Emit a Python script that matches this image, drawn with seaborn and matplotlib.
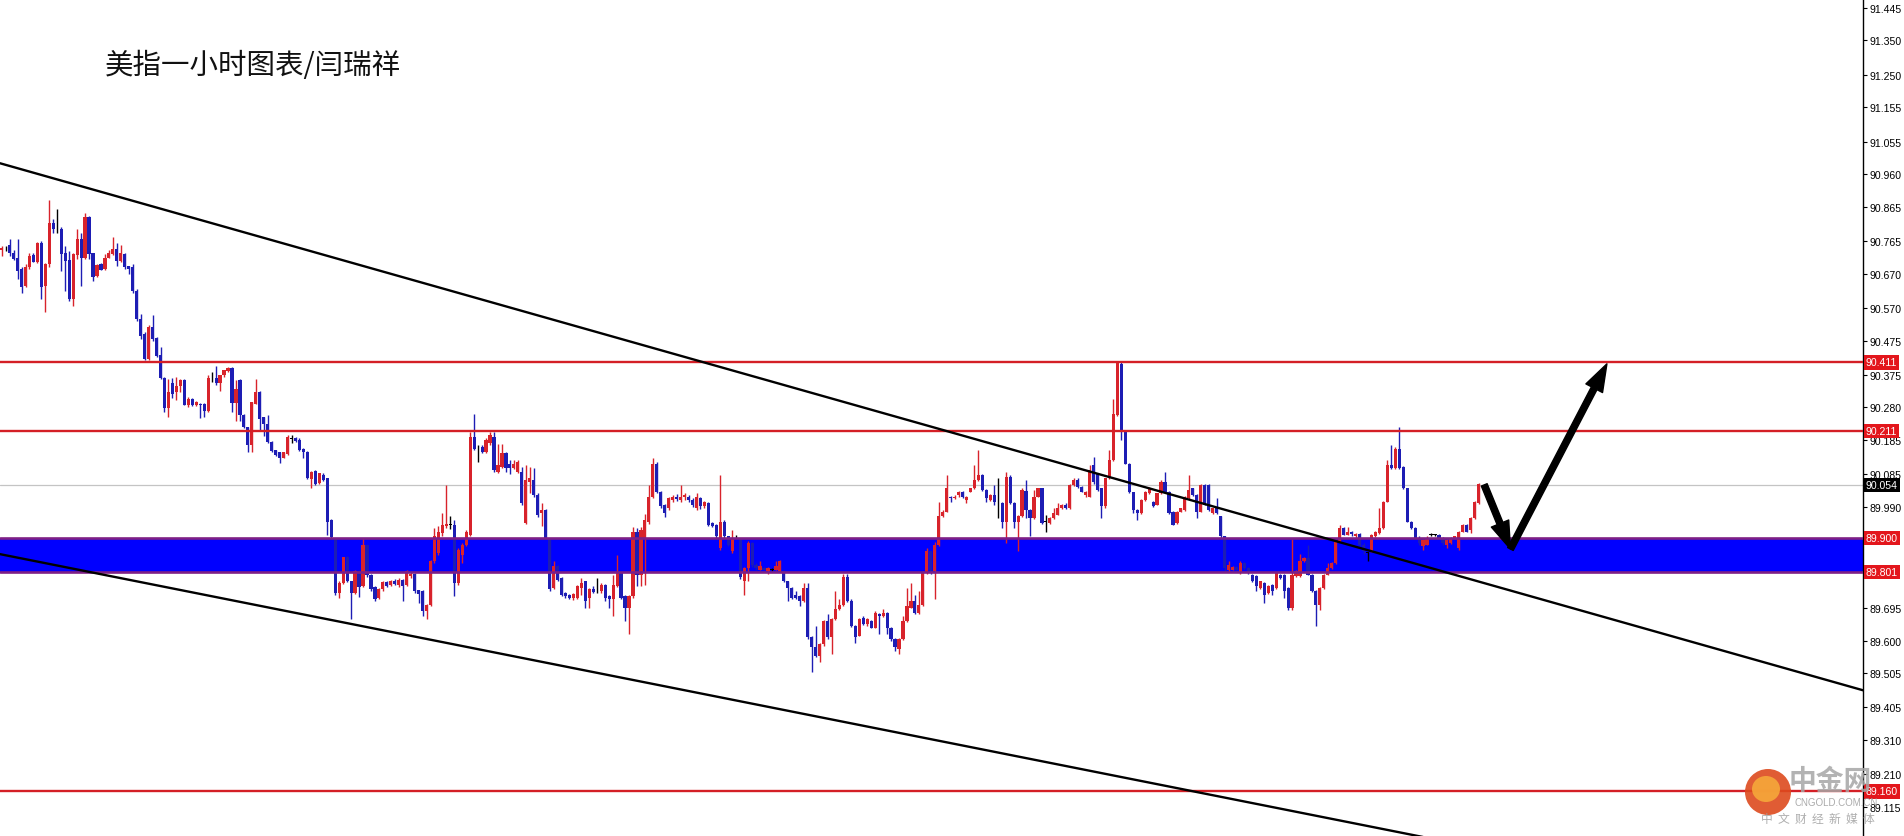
import matplotlib
matplotlib.use("Agg")
import matplotlib.pyplot as plt
from matplotlib.patches import Ellipse
import seaborn as sns
import numpy as np

# hourly candles (price)
opens = [
    90.740, 90.742, 90.755, 90.731, 90.715, 90.683, 90.633, 90.688, 90.724, 90.704,
    90.760, 90.633, 90.697, 90.818, 90.799, 90.801, 90.729, 90.709, 90.596, 90.724,
    90.770, 90.717, 90.835, 90.729, 90.662, 90.697, 90.683, 90.717, 90.726, 90.743,
    90.707, 90.726, 90.691, 90.688, 90.620, 90.538, 90.494, 90.422, 90.514, 90.482,
    90.433, 90.366, 90.277, 90.352, 90.325, 90.342, 90.359, 90.288, 90.304, 90.286,
    90.291, 90.291, 90.269, 90.366, 90.366, 90.352, 90.373, 90.386, 90.396, 90.294,
    90.359, 90.259, 90.223, 90.170, 90.291, 90.325, 90.253, 90.233, 90.180, 90.155,
    90.149, 90.133, 90.143, 90.189, 90.191, 90.184, 90.160, 90.150, 90.071, 90.094,
    90.059, 90.083, 90.073, 89.952, 89.899, 89.739, 89.768, 89.843, 89.773, 89.739,
    89.802, 89.759, 89.879, 89.792, 89.756, 89.725, 89.749, 89.771, 89.763, 89.775,
    89.763, 89.776, 89.763, 89.788, 89.794, 89.746, 89.744, 89.686, 89.705, 89.831,
    89.855, 89.913, 89.933, 89.939, 89.937, 89.768, 89.850, 89.879, 89.909, 90.194,
    90.160, 90.165, 90.150, 90.175, 90.194, 90.092, 90.107, 90.146, 90.116, 90.102,
    90.092, 90.092, 89.942, 90.063, 90.068, 90.025, 89.971, 89.981, 89.899, 89.754,
    89.817, 89.783, 89.739, 89.734, 89.725, 89.725, 89.754, 89.773, 89.725, 89.749,
    89.749, 89.744, 89.763, 89.730, 89.720, 89.759, 89.797, 89.730, 89.696, 89.730,
    89.918, 89.792, 89.900, 89.947, 90.020, 90.116, 90.034, 89.996, 89.986, 90.010,
    90.020, 90.010, 90.020, 90.020, 90.010, 89.986, 90.015, 89.991, 90.000, 89.942,
    89.938, 89.870, 89.947, 89.904, 89.860, 89.904, 89.899, 89.773, 89.812, 89.884,
    89.820, 89.807, 89.812, 89.802, 89.807, 89.807, 89.802, 89.802, 89.773, 89.754,
    89.734, 89.730, 89.715, 89.754, 89.609, 89.580, 89.556, 89.589, 89.657, 89.609,
    89.662, 89.691, 89.705, 89.785, 89.715, 89.643, 89.614, 89.667, 89.647, 89.657,
    89.638, 89.676, 89.672, 89.681, 89.638, 89.604, 89.575, 89.604, 89.657, 89.696,
    89.715, 89.681, 89.705, 89.797, 89.860, 89.802, 89.880, 89.962, 89.976, 90.020,
    90.015, 90.025, 90.034, 90.010, 90.034, 90.044, 90.068, 90.083, 90.039, 90.010,
    90.025, 90.000, 90.000, 89.947, 90.078, 90.000, 89.947, 89.962, 90.036, 89.981,
    89.957, 90.020, 90.044, 89.947, 89.942, 89.957, 89.967, 89.986, 89.996, 89.986,
    90.054, 90.068, 90.049, 90.025, 90.020, 90.112, 90.088, 90.044, 89.991, 90.073,
    90.126, 90.257, 90.406, 90.208, 90.116, 90.034, 89.981, 89.971, 90.010, 90.029,
    90.005, 89.996, 90.029, 90.063, 90.034, 89.976, 89.942, 89.976, 89.981, 90.015,
    90.044, 90.025, 89.976, 90.054, 90.054, 89.971, 89.986, 89.962, 89.904, 89.805,
    89.807, 89.814, 89.797, 89.826, 89.812, 89.792, 89.788, 89.754, 89.768, 89.739,
    89.763, 89.754, 89.792, 89.792, 89.754, 89.696, 89.788, 89.788, 89.831, 89.841,
    89.792, 89.744, 89.705, 89.754, 89.792, 89.812, 89.826, 89.890, 89.928, 89.909,
    89.918, 89.905, 89.912, 89.880, 89.855, 89.860, 89.904, 89.914, 89.928, 90.005,
    90.112, 90.102, 90.160, 90.106, 90.044, 89.947, 89.928, 89.899, 89.875, 89.880,
    89.909, 89.909, 89.909, 89.900, 89.880, 89.884, 89.899, 89.870, 89.918, 89.938,
    89.923, 89.957, 90.000,
]
highs = [
    90.751, 90.751, 90.770, 90.738, 90.770, 90.688, 90.697, 90.731, 90.731, 90.762,
    90.765, 90.700, 90.884, 90.828, 90.859, 90.806, 90.751, 90.736, 90.730, 90.801,
    90.789, 90.847, 90.838, 90.731, 90.697, 90.700, 90.726, 90.738, 90.778, 90.760,
    90.755, 90.731, 90.693, 90.697, 90.625, 90.552, 90.500, 90.519, 90.548, 90.485,
    90.456, 90.370, 90.364, 90.366, 90.369, 90.364, 90.362, 90.311, 90.308, 90.298,
    90.293, 90.293, 90.373, 90.383, 90.400, 90.375, 90.390, 90.398, 90.398, 90.359,
    90.362, 90.262, 90.224, 90.296, 90.363, 90.328, 90.253, 90.257, 90.181, 90.156,
    90.150, 90.151, 90.199, 90.199, 90.193, 90.191, 90.161, 90.152, 90.095, 90.096,
    90.090, 90.088, 90.075, 89.955, 89.900, 89.775, 89.845, 89.848, 89.775, 89.806,
    89.805, 89.899, 89.880, 89.795, 89.758, 89.752, 89.775, 89.775, 89.778, 89.780,
    89.782, 89.780, 89.807, 89.800, 89.797, 89.748, 89.746, 89.707, 89.835, 89.928,
    89.935, 89.971, 90.054, 89.962, 89.952, 89.870, 89.885, 89.923, 90.208, 90.261,
    90.170, 90.170, 90.190, 90.208, 90.208, 90.174, 90.174, 90.150, 90.126, 90.126,
    90.126, 90.107, 90.112, 90.107, 90.102, 90.030, 90.000, 89.985, 89.900, 89.831,
    89.820, 89.785, 89.741, 89.736, 89.740, 89.762, 89.783, 89.775, 89.752, 89.760,
    89.783, 89.768, 89.766, 89.734, 89.792, 89.850, 89.800, 89.734, 89.734, 89.930,
    89.928, 89.930, 89.970, 90.054, 90.131, 90.121, 90.037, 89.998, 90.020, 90.025,
    90.027, 90.054, 90.030, 90.025, 90.015, 90.030, 90.020, 90.008, 90.003, 89.945,
    89.940, 90.083, 89.952, 89.906, 89.923, 89.909, 89.900, 89.815, 89.889, 89.886,
    89.825, 89.831, 89.815, 89.815, 89.812, 89.831, 89.835, 89.805, 89.775, 89.756,
    89.744, 89.732, 89.768, 89.768, 89.612, 89.643, 89.592, 89.660, 89.676, 89.665,
    89.744, 89.720, 89.793, 89.793, 89.720, 89.645, 89.665, 89.672, 89.665, 89.660,
    89.686, 89.681, 89.691, 89.684, 89.640, 89.607, 89.607, 89.672, 89.754, 89.768,
    89.734, 89.744, 89.802, 89.870, 89.862, 89.886, 90.005, 89.981, 90.083, 90.022,
    90.025, 90.037, 90.036, 90.022, 90.046, 90.112, 90.155, 90.086, 90.041, 90.027,
    90.054, 90.073, 90.003, 90.092, 90.083, 90.003, 89.965, 90.044, 90.068, 89.984,
    90.039, 90.044, 90.046, 89.967, 89.960, 89.986, 90.000, 89.998, 90.000, 90.058,
    90.073, 90.073, 90.051, 90.036, 90.112, 90.136, 90.090, 90.046, 90.075, 90.155,
    90.305, 90.416, 90.416, 90.210, 90.118, 90.034, 89.983, 90.012, 90.036, 90.048,
    90.007, 90.031, 90.068, 90.092, 90.036, 89.978, 89.978, 89.988, 90.022, 90.083,
    90.046, 90.027, 90.058, 90.056, 90.058, 89.988, 90.015, 89.964, 89.906, 89.831,
    89.817, 89.817, 89.831, 89.828, 89.815, 89.795, 89.790, 89.775, 89.770, 89.762,
    89.766, 89.800, 89.795, 89.795, 89.756, 89.897, 89.805, 89.851, 89.843, 89.880,
    89.795, 89.746, 89.756, 89.795, 89.826, 89.828, 89.892, 89.938, 89.930, 89.930,
    89.920, 89.915, 89.915, 89.885, 89.858, 89.912, 89.920, 89.986, 90.008, 90.126,
    90.170, 90.165, 90.222, 90.108, 90.046, 89.950, 89.930, 89.905, 89.896, 89.904,
    89.913, 89.912, 89.911, 89.902, 89.896, 89.901, 89.906, 89.920, 89.940, 89.940,
    89.960, 90.007, 90.060,
]
lows = [
    90.722, 90.735, 90.722, 90.710, 90.654, 90.615, 90.630, 90.685, 90.704, 90.700,
    90.596, 90.557, 90.690, 90.789, 90.789, 90.678, 90.620, 90.591, 90.577, 90.712,
    90.635, 90.712, 90.712, 90.649, 90.659, 90.681, 90.681, 90.715, 90.724, 90.691,
    90.704, 90.685, 90.668, 90.615, 90.533, 90.480, 90.417, 90.418, 90.475, 90.427,
    90.364, 90.267, 90.253, 90.306, 90.301, 90.325, 90.286, 90.282, 90.284, 90.283,
    90.250, 90.253, 90.266, 90.354, 90.344, 90.327, 90.370, 90.384, 90.267, 90.240,
    90.240, 90.220, 90.151, 90.151, 90.290, 90.213, 90.198, 90.175, 90.150, 90.139,
    90.117, 90.131, 90.141, 90.175, 90.180, 90.153, 90.131, 90.071, 90.044, 90.054,
    90.057, 90.066, 89.909, 89.898, 89.734, 89.725, 89.766, 89.770, 89.662, 89.735,
    89.727, 89.755, 89.785, 89.745, 89.715, 89.720, 89.745, 89.755, 89.760, 89.762,
    89.757, 89.715, 89.760, 89.783, 89.740, 89.710, 89.672, 89.662, 89.700, 89.826,
    89.850, 89.905, 89.928, 89.925, 89.730, 89.763, 89.826, 89.875, 89.905, 90.155,
    90.121, 90.146, 90.146, 90.170, 90.092, 90.090, 90.102, 90.092, 90.087, 90.100,
    90.088, 89.995, 89.940, 90.030, 90.020, 89.960, 89.933, 89.895, 89.745, 89.750,
    89.775, 89.730, 89.725, 89.720, 89.718, 89.720, 89.734, 89.696, 89.696, 89.738,
    89.740, 89.740, 89.715, 89.696, 89.672, 89.755, 89.720, 89.657, 89.618, 89.725,
    89.760, 89.760, 89.763, 89.940, 90.015, 90.030, 89.986, 89.960, 89.981, 90.005,
    90.008, 90.005, 90.010, 90.005, 89.990, 89.980, 89.985, 89.988, 89.935, 89.930,
    89.899, 89.865, 89.900, 89.875, 89.855, 89.899, 89.780, 89.734, 89.773, 89.815,
    89.805, 89.805, 89.805, 89.793, 89.802, 89.805, 89.800, 89.770, 89.715, 89.722,
    89.722, 89.701, 89.712, 89.605, 89.507, 89.553, 89.536, 89.585, 89.605, 89.561,
    89.660, 89.688, 89.701, 89.712, 89.640, 89.594, 89.612, 89.645, 89.643, 89.636,
    89.636, 89.618, 89.670, 89.618, 89.599, 89.570, 89.561, 89.602, 89.655, 89.694,
    89.678, 89.678, 89.702, 89.793, 89.793, 89.720, 89.875, 89.960, 89.974, 90.005,
    90.012, 90.020, 90.015, 90.000, 90.032, 90.042, 90.066, 90.036, 90.005, 90.008,
    89.996, 89.957, 89.928, 89.884, 89.997, 89.928, 89.860, 89.960, 89.957, 89.904,
    89.955, 90.018, 89.940, 89.918, 89.940, 89.955, 89.965, 89.984, 89.984, 89.984,
    90.052, 90.046, 90.032, 90.020, 90.018, 90.058, 90.036, 89.957, 89.988, 90.070,
    90.124, 90.255, 90.184, 90.114, 90.030, 89.971, 89.952, 89.969, 90.008, 90.027,
    89.989, 89.994, 90.027, 90.032, 89.969, 89.936, 89.940, 89.974, 89.979, 90.013,
    90.022, 89.957, 89.974, 89.994, 89.979, 89.969, 89.969, 89.900, 89.800, 89.800,
    89.805, 89.805, 89.795, 89.810, 89.795, 89.770, 89.744, 89.750, 89.710, 89.736,
    89.734, 89.750, 89.780, 89.725, 89.690, 89.690, 89.785, 89.785, 89.829, 89.790,
    89.742, 89.641, 89.690, 89.751, 89.790, 89.810, 89.823, 89.888, 89.907, 89.907,
    89.905, 89.900, 89.875, 89.851, 89.831, 89.858, 89.902, 89.912, 89.926, 90.003,
    90.100, 90.100, 90.100, 90.042, 89.945, 89.926, 89.897, 89.880, 89.865, 89.878,
    89.905, 89.906, 89.895, 89.880, 89.870, 89.882, 89.897, 89.865, 89.916, 89.916,
    89.913, 89.955, 89.998,
]
closes = [
    90.745, 90.741, 90.731, 90.712, 90.678, 90.630, 90.688, 90.722, 90.704, 90.760,
    90.630, 90.697, 90.818, 90.799, 90.800, 90.726, 90.707, 90.596, 90.726, 90.770,
    90.717, 90.836, 90.726, 90.659, 90.694, 90.681, 90.717, 90.731, 90.743, 90.707,
    90.731, 90.688, 90.685, 90.620, 90.538, 90.489, 90.422, 90.514, 90.480, 90.431,
    90.366, 90.279, 90.325, 90.320, 90.342, 90.359, 90.288, 90.304, 90.286, 90.296,
    90.286, 90.269, 90.366, 90.365, 90.352, 90.373, 90.388, 90.396, 90.294, 90.333,
    90.259, 90.224, 90.170, 90.296, 90.325, 90.247, 90.233, 90.180, 90.152, 90.141,
    90.133, 90.149, 90.194, 90.189, 90.181, 90.155, 90.149, 90.073, 90.093, 90.056,
    90.088, 90.068, 89.947, 89.901, 89.739, 89.768, 89.843, 89.773, 89.739, 89.804,
    89.756, 89.879, 89.790, 89.749, 89.720, 89.749, 89.771, 89.759, 89.775, 89.766,
    89.776, 89.759, 89.802, 89.795, 89.744, 89.736, 89.686, 89.705, 89.831, 89.904,
    89.918, 89.937, 89.940, 89.938, 89.768, 89.865, 89.879, 89.916, 90.194, 90.160,
    90.158, 90.150, 90.184, 90.199, 90.097, 90.112, 90.146, 90.102, 90.102, 90.116,
    90.121, 90.000, 90.068, 90.073, 90.025, 89.967, 89.981, 89.899, 89.749, 89.817,
    89.778, 89.734, 89.729, 89.725, 89.735, 89.759, 89.768, 89.715, 89.749, 89.742,
    89.751, 89.763, 89.725, 89.720, 89.763, 89.797, 89.725, 89.696, 89.730, 89.918,
    89.792, 89.923, 89.952, 90.020, 90.116, 90.034, 89.991, 89.971, 90.015, 90.020,
    90.012, 90.020, 90.025, 90.010, 89.996, 90.020, 89.991, 90.005, 89.938, 89.933,
    89.904, 89.947, 89.904, 89.880, 89.899, 89.904, 89.785, 89.812, 89.884, 89.820,
    89.812, 89.817, 89.807, 89.812, 89.807, 89.817, 89.831, 89.773, 89.754, 89.725,
    89.725, 89.715, 89.754, 89.609, 89.580, 89.556, 89.589, 89.657, 89.609, 89.662,
    89.691, 89.705, 89.785, 89.715, 89.643, 89.609, 89.662, 89.647, 89.662, 89.638,
    89.681, 89.672, 89.681, 89.638, 89.604, 89.580, 89.604, 89.657, 89.701, 89.715,
    89.681, 89.705, 89.797, 89.860, 89.802, 89.880, 89.962, 89.976, 90.044, 90.015,
    90.020, 90.034, 90.020, 90.020, 90.044, 90.068, 90.083, 90.039, 90.015, 90.025,
    90.005, 90.000, 89.947, 90.078, 90.000, 89.947, 89.962, 90.039, 89.981, 89.957,
    90.020, 90.044, 89.942, 89.947, 89.957, 89.971, 89.986, 89.996, 89.986, 90.054,
    90.068, 90.049, 90.034, 90.034, 90.097, 90.063, 90.039, 89.991, 90.073, 90.126,
    90.261, 90.411, 90.208, 90.116, 90.034, 89.981, 89.971, 90.010, 90.034, 90.046,
    89.991, 90.029, 90.063, 90.034, 89.971, 89.938, 89.976, 89.986, 90.020, 90.039,
    90.025, 89.976, 90.054, 89.996, 89.981, 89.986, 89.971, 89.904, 89.812, 89.821,
    89.814, 89.807, 89.826, 89.812, 89.800, 89.773, 89.759, 89.773, 89.734, 89.759,
    89.744, 89.797, 89.783, 89.744, 89.696, 89.792, 89.802, 89.831, 89.841, 89.792,
    89.744, 89.705, 89.754, 89.792, 89.812, 89.826, 89.890, 89.928, 89.909, 89.918,
    89.912, 89.912, 89.880, 89.860, 89.855, 89.909, 89.918, 89.928, 90.005, 90.111,
    90.102, 90.160, 90.102, 90.044, 89.947, 89.928, 89.899, 89.885, 89.894, 89.899,
    89.909, 89.909, 89.900, 89.885, 89.894, 89.899, 89.904, 89.918, 89.938, 89.918,
    89.957, 90.005, 90.058,
]

red_levels = [90.411, 90.211, 89.160]
band_levels = [89.900, 89.801]
last_price = 90.054

price_ticks = [91.445, 91.350, 91.250, 91.155, 91.055, 90.960, 90.865, 90.765,
               90.670, 90.570, 90.475, 90.375, 90.280, 90.185, 90.085, 89.990,
               89.895, 89.800, 89.695, 89.600, 89.505, 89.405, 89.310, 89.210,
               89.115]
# these two sit under the zone labels and cannot be read
hidden_ticks = [89.895, 89.800]

# hand drawn trend lines (bar index, price)
upper_trend_x = [-0.43, 468.8]
upper_trend_y = [90.992, 89.455]
lower_trend_x = [-0.43, 468.8]
lower_trend_y = [89.852, 88.772]

# projected path drawn as arrows (bar index, price)
arrow_x = [373.4, 380.0, 404.3]
arrow_y = [90.054, 89.867, 90.407]

title = "美指一小时图表/闫瑞祥"

UP = "#d8232b"
DOWN = "#1d1db4"
LINE_RED = "#d41f26"
BAND_EDGE = "#7e1f86"

sns.set_theme(style="white")
plt.rcParams["font.family"] = ["Liberation Sans", "Noto Sans CJK SC"]

fig = plt.figure(figsize=(19.04, 8.37), dpi=100)
ax = fig.add_axes([0, 0, 1863 / 1904, 1])
ax.set_facecolor("white")
ax.set_xlim(-0.43, 468.8)
ax.set_ylim(89.030, 91.471)

o = np.array(opens)
h = np.array(highs)
l = np.array(lows)
c = np.array(closes)
x = np.arange(len(c))

cols = np.where(c > o, UP, DOWN).astype(object)
doji = np.abs(c - o) <= 0.0025
cols[doji] = "black"
bottoms = np.minimum(o, c)
heights = np.maximum(np.abs(c - o), 0.0018)

# blue support zone
ax.axhspan(band_levels[1], band_levels[0], color="#0000ff", lw=0, zorder=1)
ax.axhline(last_price, color="#c4c4c4", lw=0.9, zorder=1.5)

ax.vlines(x, l, h, colors=list(cols), lw=1.0, zorder=2)
ax.bar(x, heights, bottom=bottoms, width=0.8, color=list(cols), lw=0, zorder=2.1)

for lv in red_levels:
    ax.axhline(lv, color=LINE_RED, lw=1.7, zorder=3)
for lv in band_levels:
    ax.axhline(lv, color=BAND_EDGE, lw=1.9, zorder=3)

sns.lineplot(x=upper_trend_x, y=upper_trend_y, color="black", lw=1.7, ax=ax, zorder=4)
sns.lineplot(x=lower_trend_x, y=lower_trend_y, color="black", lw=1.7, ax=ax, zorder=4)

for k in range(len(arrow_x) - 1):
    ax.annotate("", xy=(arrow_x[k + 1], arrow_y[k + 1]), xytext=(arrow_x[k], arrow_y[k]),
                arrowprops=dict(arrowstyle="simple,head_length=1.1,head_width=0.75,tail_width=0.25",
                                color="black", mutation_scale=18, shrinkA=0, shrinkB=0),
                zorder=5)

# price axis on the right
for s in ["left", "top", "bottom"]:
    ax.spines[s].set_visible(False)
ax.spines["right"].set_color("black")
ax.spines["right"].set_linewidth(1.0)
ax.set_xticks([])
ax.yaxis.tick_right()
ax.set_yticks(price_ticks)
ax.set_yticklabels(["" if v in hidden_ticks else f"{v:.3f}" for v in price_ticks])
ax.tick_params(axis="y", direction="out", length=3, width=0.8, pad=2,
               labelsize=7.6, colors="black", right=True, left=False)
ax.grid(False)

tr = ax.get_yaxis_transform()
for lv in red_levels + band_levels:
    ax.text(1.0016, lv, f"{lv:.3f}", transform=tr, ha="left", va="center",
            fontsize=7.6, color="white", clip_on=False, zorder=10,
            bbox=dict(boxstyle="square,pad=0.2", fc="#e3161c", ec="none"))
ax.text(1.0016, last_price, f"{last_price:.3f}", transform=tr, ha="left", va="center",
        fontsize=7.6, color="white", clip_on=False, zorder=10,
        bbox=dict(boxstyle="square,pad=0.2", fc="black", ec="none"))

fig.text(105 / 1904, 1 - 66 / 837, title, fontsize=20.5, ha="left", va="center",
         family=["Noto Sans CJK SC", "DejaVu Sans"], color="#111111")

# watermark
fig.add_artist(Ellipse((1768 / 1904, 1 - 793 / 837), 46 / 1904, 46 / 837,
                       transform=fig.transFigure, fc="#dd4a1e", ec="none", alpha=0.9, zorder=20))
fig.add_artist(Ellipse((1766 / 1904, 1 - 790 / 837), 28 / 1904, 26 / 837,
                       transform=fig.transFigure, fc="#f6a83a", ec="none", alpha=0.9, zorder=21))
fig.text(1830 / 1904, 1 - 782 / 837, "中金网", fontsize=20, fontweight="bold",
         ha="center", va="center", color="#a6a6a6", alpha=0.85,
         family=["Noto Sans CJK SC"], zorder=22)
fig.text(1836 / 1904, 1 - 803 / 837, "CNGOLD.COM.CN", fontsize=7, ha="center", va="center",
         color="#9c9c9c", alpha=0.85, zorder=22)
fig.text(1818 / 1904, 1 - 819 / 837, "中  文  财  经  新  媒  体", fontsize=8.5,
         ha="center", va="center", color="#a0a0a0", alpha=0.85,
         family=["Noto Sans CJK SC"], zorder=22)

fig.savefig("out.png", dpi=100, facecolor="white")
